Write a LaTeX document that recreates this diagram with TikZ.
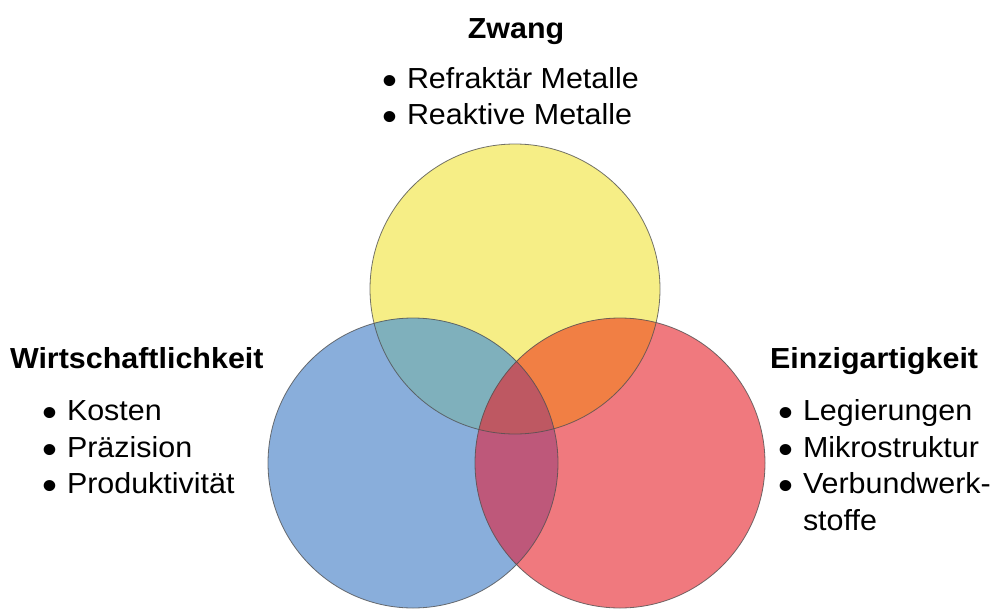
\documentclass[tikz,border=0pt]{standalone}
\usepackage{graphicx}
\usepackage{fontspec}
\setmainfont{Liberation Sans}[FakeStretch=1.05]
\definecolor{zwangY}{HTML}{F6EE86}
\definecolor{wirtB}{HTML}{89AEDB}
\definecolor{einzR}{HTML}{F0797E}
\definecolor{ovYB}{HTML}{7FB0BC}
\definecolor{ovYR}{HTML}{F17F44}
\definecolor{ovBR}{HTML}{BE587A}
\definecolor{ovYBR}{HTML}{BE5862}
\definecolor{rim}{HTML}{505050}
\newcommand\bul{\makebox[0pt][r]{\smash{\raisebox{-6.5pt}{\scalebox{1.4}{\textbullet}}}\hspace{10pt}}}
\begin{document}
\begin{tikzpicture}[x=1pt,y=-1pt,
  txt/.style={font=\fontsize{29}{36.5}\selectfont, inner sep=0pt, outer sep=0pt, anchor=base west},
  head/.style={txt, font=\fontsize{29}{36.5}\selectfont\bfseries},
  rimline/.style={draw=rim, line width=0.8pt, draw opacity=0.8}]
\useasboundingbox (0,0) rectangle (1001,608);
\clip (0,0) rectangle (1001,608);
\def\r{145pt}
\coordinate (Y) at (515,289);
\coordinate (B) at (413,463);
\coordinate (R) at (620,463);

% plain discs
\fill[zwangY] (Y) circle[radius=\r];
\fill[wirtB] (B) circle[radius=\r];
\fill[einzR] (R) circle[radius=\r];
% pairwise overlaps
\begin{scope}
  \clip (Y) circle[radius=\r];
  \fill[ovYB] (B) circle[radius=\r];
  \fill[ovYR] (R) circle[radius=\r];
\end{scope}
\begin{scope}
  \clip (B) circle[radius=\r];
  \fill[ovBR] (R) circle[radius=\r];
  \clip (R) circle[radius=\r];
  \fill[ovYBR] (Y) circle[radius=\r];
\end{scope}
% outlines
\draw[rimline] (Y) circle[radius=\r];
\draw[rimline] (B) circle[radius=\r];
\draw[rimline] (R) circle[radius=\r];

% top group
\node[head, anchor=base] (zwang) at (516,38) {Zwang};
\node[txt] (z1) at (407,88) {\bul Refraktär Metalle};
\node[txt] (z2) at (407,124) {\bul Reaktive Metalle};

% left group
\node[head] (wirt) at (10,368) {Wirtschaftlichkeit};
\node[txt] (w1) at (67,420) {\bul Kosten};
\node[txt] (w2) at (67,457) {\bul Präzision};
\node[txt] (w3) at (67,493) {\bul Produktivität};

% right group
\node[head] (einz) at (770,368) {Einzigartigkeit};
\node[txt] (e1) at (803,420) {\bul Legierungen};
\node[txt] (e2) at (803,457) {\bul Mikrostruktur};
\node[txt] (e3) at (803,493) {\bul Verbundwerk-};
\node[txt] (e4) at (803,530) {stoffe};
\end{tikzpicture}
\end{document}
